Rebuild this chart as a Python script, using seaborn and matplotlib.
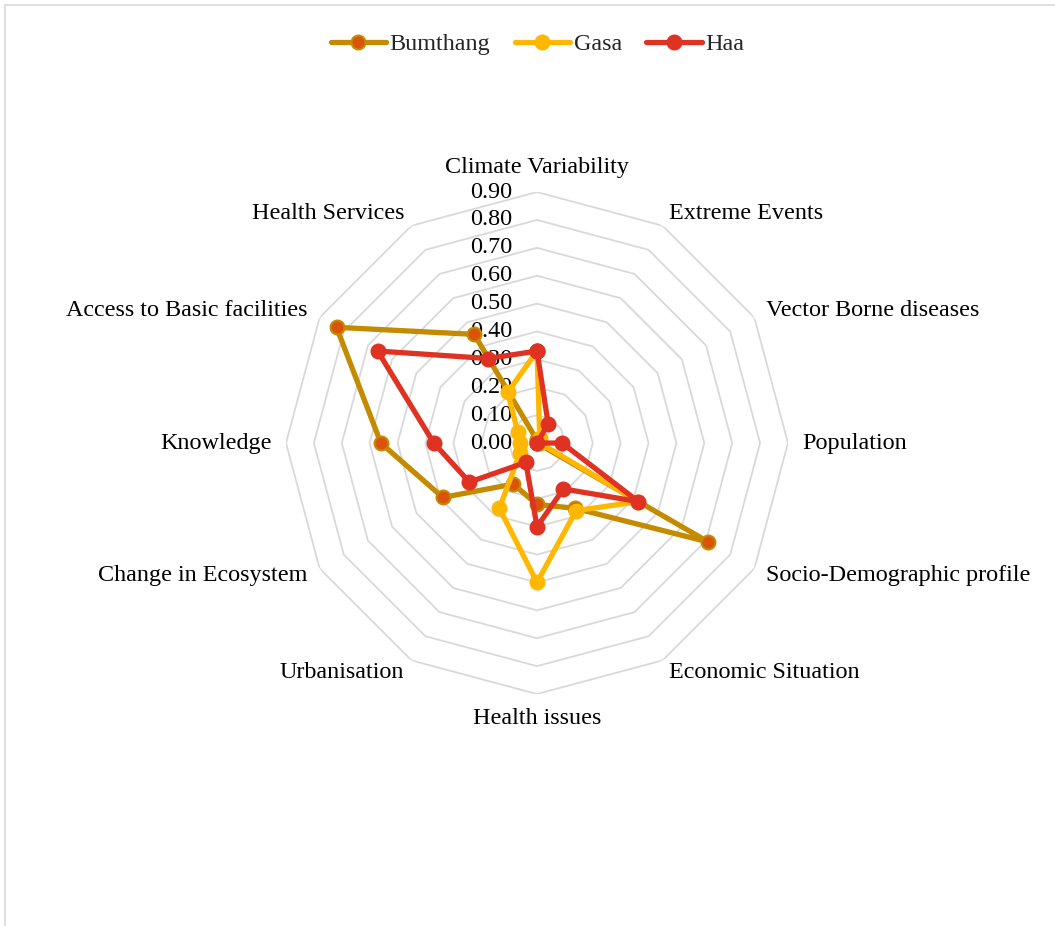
"""Radar chart of vulnerability indicators for Bumthang, Gasa and Haa."""

import numpy as np
import pandas as pd
import seaborn as sns
import matplotlib.pyplot as plt
from matplotlib.lines import Line2D

# -----------------------------------------------------------------------------

categories = [
    'Climate Variability', 'Extreme Events', 'Vector Borne diseases',
    'Population', 'Socio-Demographic profile', 'Economic Situation',
    'Health issues', 'Urbanisation', 'Change in Ecosystem', 'Knowledge',
    'Access to Basic facilities', 'Health Services',
]
bumthang = [0.01, 0.00, 0.00, 0.00, 0.71, 0.27, 0.22, 0.17, 0.39, 0.56, 0.83, 0.45]
gasa     = [0.33, 0.02, 0.01, 0.01, 0.42, 0.28, 0.50, 0.27, 0.07, 0.06, 0.08, 0.21]
haa      = [0.33, 0.08, 0.00, 0.09, 0.42, 0.19, 0.30, 0.08, 0.28, 0.37, 0.66, 0.35]

r_ticks = [0.0, 0.1, 0.2, 0.3, 0.4, 0.5, 0.6, 0.7, 0.8, 0.9]
r_labels = ['0.00', '0.10', '0.20', '0.30', '0.40', '0.50', '0.60', '0.70', '0.80', '0.90']

series = [
    ('Bumthang', bumthang, '#C48A00', '#D9540A'),
    ('Gasa',     gasa,     '#FFB700', '#FFB700'),
    ('Haa',      haa,      '#E03222', '#E03222'),
]

# -----------------------------------------------------------------------------

sns.set_theme(style='white')
plt.rcParams['font.family'] = ['Liberation Serif', 'DejaVu Serif']
FS = 17.4

fig = plt.figure(figsize=(10.55, 9.26), dpi=100)
ax = fig.add_axes([0.2711, 0.2505, 0.4758, 0.5421], projection='polar')
ax.set_theta_zero_location('N')
ax.set_theta_direction(-1)
ax.set_ylim(0, 0.9)
ax.grid(False)
ax.spines['polar'].set_visible(False)
ax.set_facecolor('none')
ax.set_xticks([])
ax.set_yticks([])

n = len(categories)
theta = np.linspace(0, 2 * np.pi, n, endpoint=False)
theta_closed = np.append(theta, 2 * np.pi)

# Polygon gridlines.
for lvl in r_ticks[1:]:
    ax.plot(theta_closed, [lvl] * (n + 1), color='#d9d9d9', lw=1.3, zorder=0)

# Radial value labels.
for lvl, lab in zip(r_ticks, r_labels):
    ax.annotate(lab, xy=(0, lvl), xytext=(-18, 0), textcoords='offset points',
                ha='right', va='center', fontsize=FS, color='black', zorder=1)

# Category labels.
for ang, cat in zip(theta, categories):
    deg = np.degrees(ang)
    if np.isclose(deg, 0):
        ha, va = 'center', 'bottom'
    elif np.isclose(deg, 180):
        ha, va = 'center', 'top'
    elif deg < 180:
        ha, va = 'left', 'center'
    else:
        ha, va = 'right', 'center'
    ax.text(ang, 0.95, cat, ha=ha, va=va, fontsize=FS, color='black')

# Series.
for name, vals, col, face in series:
    df = pd.DataFrame({'theta': theta_closed, 'r': list(vals) + [vals[0]]})
    sns.lineplot(data=df, x='theta', y='r', ax=ax, sort=False, estimator=None,
                 color=col, lw=3.8, marker='o', markersize=10,
                 markerfacecolor=face, markeredgecolor=col, markeredgewidth=1.5,
                 label=name, zorder=3)

ax.set_xlabel('')
ax.set_ylabel('')
ax.set_ylim(0, 0.9)
handles, labels = ax.get_legend_handles_labels()
ax.get_legend().remove()
fig.legend(handles, labels, loc='center', bbox_to_anchor=(0.5095, 1 - 44 / 926),
           ncol=3, frameon=False, fontsize=FS, handlelength=2.3,
           handletextpad=0.15, columnspacing=1.0)

# Chart frame (top and left edges visible).
fig.add_artist(Line2D([5 / 1055, 1], [1 - 5 / 926, 1 - 5 / 926],
                      transform=fig.transFigure, color='#d9d9d9', lw=1.2))
fig.add_artist(Line2D([5 / 1055, 5 / 1055], [0, 1 - 5 / 926],
                      transform=fig.transFigure, color='#d9d9d9', lw=1.2))

fig.savefig('out.png', dpi=100, facecolor='white')
